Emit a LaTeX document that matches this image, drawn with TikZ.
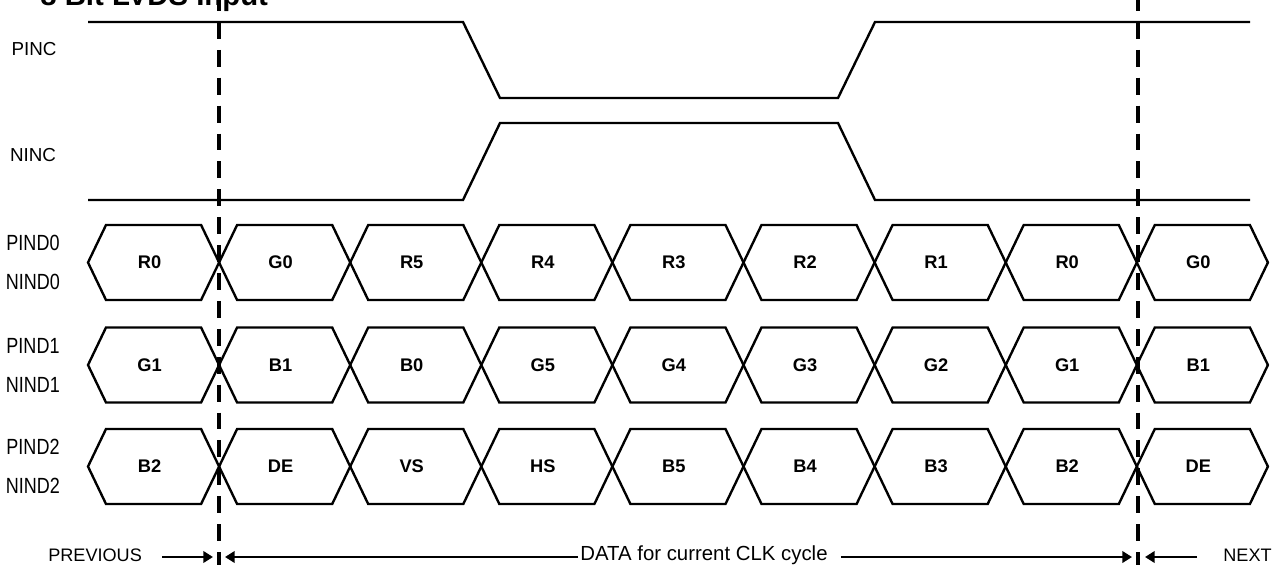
\documentclass[tikz,border=0pt]{standalone}
\usepackage{fontspec}
\setmainfont{Liberation Sans}
\newfontfamily\narrowfont[FakeStretch=0.82]{Liberation Sans}
\usetikzlibrary{arrows.meta,positioning}

\begin{document}
\begin{tikzpicture}[x=0.02cm, y=-0.02cm,
		wave/.style={line width=1.35pt, line join=miter},
		marker/.style={line width=2pt, dash pattern=on 9.64pt off 6.24pt},
		clklbl/.style={font=\fontsize{10.7}{12}\selectfont},
		pinlbl/.style={font=\narrowfont\fontsize{12.5}{14}\selectfont},
		datalbl/.style={font=\bfseries\fontsize{10.4}{12}\selectfont},
		note/.style={font=\fontsize{10.3}{12}\selectfont, anchor=west, inner sep=0pt},
		arr/.style={line width=1.35pt, -{Triangle[length=5.5pt,width=6.5pt]}} ]
	\clip (0,0) rectangle (1277,574);
	\node [anchor=base west, inner sep=0pt, font=\bfseries\fontsize{16.7}{18}\selectfont] (ttl) at (40,6) {8 Bit LVDS Input};
	\node [clklbl] (pinc) at (34,49) {PINC};
	\node [clklbl] (ninc) at (33,155) {NINC};
	\draw [wave] (88,22) -- (463,22) -- (500,98) -- (838,98) -- (875,22) -- (1250,22);
	\draw [wave] (88,200) -- (463,200) -- (500,123) -- (838,123) -- (875,200) -- (1250,200);
	\foreach \ry/\labs [count=\r from 0] in {262.5/{R0,G0,R5,R4,R3,R2,R1,R0,G0},
			365/{G1,B1,B0,G5,G4,G3,G2,G1,B1},
			466.5/{B2,DE,VS,HS,B5,B4,B3,B2,DE}} {
		\node [pinlbl] (p\r) at (33,\ry-19.5) {PIND\r};
		\node [pinlbl] (n\r) at (33,\ry+19.5) {NIND\r};
		\foreach \lbl [count=\k from 0] in \labs {
			\pgfmathsetmacro\xa{88+131.1*\k}
			\pgfmathsetmacro\xb{\xa+131.1}
			\draw [wave] (\xa,\ry) -- (\xa+18,\ry-37.5) -- (\xb-18,\ry-37.5) -- (\xb,\ry)
				-- (\xb-18,\ry+37.5) -- (\xa+18,\ry+37.5) -- cycle;
			\node [datalbl] (d\r-\k) at (\xa+61.5,\ry) {\lbl};
		}
	}
	\coordinate (m1t) at (219,-6);
	\coordinate (m1b) at (219,565);
	\coordinate (m2t) at (1138,-6);
	\coordinate (m2b) at (1138,565);
	\draw [marker] (m1t) -- (m1b);
	\draw [marker] (m2t) -- (m2b);
	\node [note] (prev) at (48,555) {PREVIOUS};
	\node [note, font=\fontsize{11.6}{13}\selectfont] (data) at (580,555) {DATA for current CLK cycle};
	\node [note] (next) at (1223,555) {NEXT};
	\coordinate (pvtip) at (213,557);
	\coordinate (dltip) at (225,557);
	\coordinate (drtip) at (1132,557);
	\coordinate (nxtip) at (1145,557);
	\draw [arr] (prev.east |- pvtip) ++(20,0) -- (pvtip);
	\draw [arr] (data.west |- dltip) ++(-2,0) -- (dltip);
	\draw [arr] (data.east |- drtip) ++(13,0) -- (drtip);
	\draw [arr] (next.west |- nxtip) ++(-26,0) -- (nxtip);
\end{tikzpicture}
\end{document}
